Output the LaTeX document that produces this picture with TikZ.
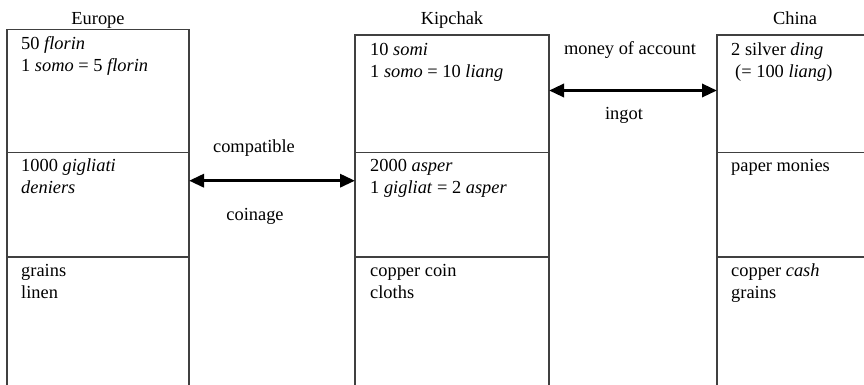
\documentclass[tikz,border=0pt]{standalone}
\usepackage{fontspec}
\setmainfont{Liberation Serif}
\usetikzlibrary{arrows.meta}
\begin{document}
\begin{tikzpicture}[x=1pt,y=-1pt,
  cell/.style={draw=black!75, line width=1.2pt, rectangle, inner sep=0pt, outer sep=0pt, anchor=north west},
  txt/.style={anchor=north west, inner sep=0pt, align=left, font=\fontsize{18.4}{22}\selectfont},
  lbl/.style={anchor=base, inner sep=0pt, font=\fontsize{18.4}{22}\selectfont},
  tip/.tip={Triangle[length=15pt,width=13pt]},
  arr/.style={line width=3.3pt, tip-tip}]
\clip (0,0) rectangle (864,384);
% Europe
\node[cell, minimum width=182pt, minimum height=123pt] (e1) at (7,29.5) {};
\node[cell, minimum width=182pt, minimum height=104.5pt] (e2) at (7,152.5) {};
\node[cell, minimum width=182pt, minimum height=140pt] (e3) at (7,257) {};
% Kipchak
\node[cell, minimum width=194pt, minimum height=117.5pt] (k1) at (355,35) {};
\node[cell, minimum width=194pt, minimum height=104.5pt] (k2) at (355,152.5) {};
\node[cell, minimum width=194pt, minimum height=140pt] (k3) at (355,257) {};
% China
\node[cell, minimum width=160pt, minimum height=117.5pt] (c1) at (717,35) {};
\node[cell, minimum width=160pt, minimum height=104.5pt] (c2) at (717,152.5) {};
\node[cell, minimum width=160pt, minimum height=140pt] (c3) at (717,257) {};
% headers
\node[lbl] (he) at (98,24) {Europe};
\node[lbl] (hk) at (452,24) {Kipchak};
\node[lbl] (hc) at (795,24) {China};
% cell texts
\node[txt] (e1t) at (21,33.6) {\strut 50 \textit{florin}\\ 1 \textit{somo} = 5 \textit{florin}};
\node[txt] (e2t) at (21,156.3) {\strut 1000 \textit{gigliati}\\ \textit{deniers}};
\node[txt] (e3t) at (21,261.1) {\strut grains\\ linen};
\node[txt] (k1t) at (370,39.6) {\strut 10 \textit{somi}\\ 1 \textit{somo} = 10 \textit{liang}};
\node[txt] (k2t) at (370,156.3) {\strut 2000 \textit{asper}\\ 1 \textit{gigliat} = 2 \textit{asper}};
\node[txt] (k3t) at (370,261.1) {\strut copper coin\\ cloths};
\node[txt] (c1t) at (731,39.6) {\strut 2 silver \textit{ding}\\ \hspace*{4pt}(= 100 \textit{liang})};
\node[txt] (c2t) at (731,156.3) {\strut paper monies};
\node[txt] (c3t) at (731,261.1) {\strut copper \textit{cash}\\ grains};
% arrows
\coordinate (ya) at (0,90.5);
\coordinate (yb) at (0,180.7);
\draw[arr] (k1.east |- ya) -- (c1.west |- ya);
\draw[arr] (e2.east |- yb) -- (k2.west |- yb);
% arrow labels
\node[lbl] (lcomp) at (254,152) {compatible};
\node[lbl] (lcoin) at (255,220) {coinage};
\node[lbl] (lmoa) at (630,54.3) {money of account};
\node[lbl] (ling) at (624,119.3) {ingot};
\end{tikzpicture}
\end{document}
